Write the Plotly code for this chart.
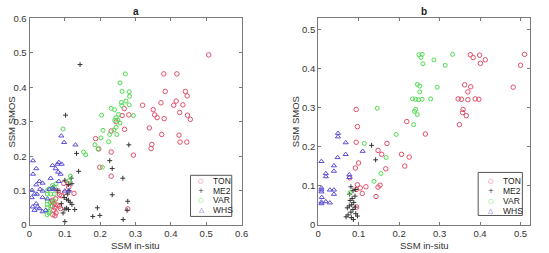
import plotly.graph_objects as go

# ---------------- Panel a data ----------------
a_ton_x = [0.507,0.380,0.417,0.384,0.441,0.446,0.372,0.415,0.408,0.434,0.320,0.350,0.354,0.361,0.381,0.425,0.447,0.455,0.339,0.374,0.423,0.426,0.445,0.346,0.344,0.294,0.268,0.281,0.262,0.269,0.245,0.231,0.187,0.196,0.231,0.199,0.231,0.278,
           0.097,0.109,0.111,0.126,0.081,0.085,0.074,0.065,0.070,0.078,0.065,0.072,0.085,0.069,0.075,0.066,0.072,0.088,0.064,0.090,0.100]
a_ton_y = [0.494,0.439,0.439,0.388,0.388,0.375,0.355,0.360,0.348,0.349,0.348,0.335,0.320,0.312,0.309,0.327,0.319,0.307,0.282,0.263,0.261,0.241,0.241,0.234,0.222,0.203,0.338,0.320,0.318,0.278,0.300,0.273,0.251,0.221,0.212,0.168,0.142,0.047,
           0.121,0.120,0.110,0.092,0.099,0.088,0.076,0.068,0.062,0.058,0.055,0.050,0.055,0.043,0.035,0.030,0.027,0.048,0.072,0.085,0.095]

a_me2_x = [0.143,0.102,0.133,0.139,0.227,0.234,0.281,0.264,0.234,0.278,0.276,0.192,0.179,0.199,0.265,0.118,0.120,0.100,0.110,0.098,0.105,0.110,0.115,0.120,0.100,0.105,0.110,0.128,0.095,0.100,0.090,0.080,0.070,0.108,0.112]
a_me2_y = [0.466,0.319,0.208,0.156,0.187,0.164,0.233,0.136,0.088,0.069,0.043,0.050,0.025,0.028,0.016,0.136,0.120,0.130,0.118,0.080,0.075,0.072,0.066,0.060,0.046,0.049,0.045,0.045,0.035,0.010,0.062,0.100,0.105,0.090,0.100]

a_var_x = [0.271,0.256,0.262,0.282,0.283,0.273,0.282,0.260,0.261,0.231,0.241,0.204,0.294,0.252,0.245,0.241,0.256,0.250,0.245,0.208,0.239,0.247,0.227,0.202,0.224,0.185,0.194,0.153,0.159,0.095,0.206,0.116,0.111,
           0.050,0.055,0.050,0.060,0.050,0.050,0.050,0.055,0.050,0.060,0.070,0.075,0.070,0.065,0.060,0.055,0.070]
a_var_y = [0.439,0.413,0.388,0.387,0.374,0.360,0.349,0.356,0.347,0.339,0.335,0.319,0.318,0.321,0.312,0.304,0.296,0.305,0.284,0.275,0.276,0.263,0.263,0.253,0.242,0.233,0.221,0.212,0.204,0.279,0.168,0.142,0.128,
           0.100,0.105,0.090,0.090,0.070,0.060,0.050,0.040,0.030,0.065,0.090,0.120,0.110,0.115,0.055,0.035,0.070]

a_whs_x = [0.090,0.098,0.130,0.010,0.019,0.010,0.079,0.083,0.091,0.074,0.081,0.088,0.065,0.028,0.037,0.019,0.030,0.060,0.083,0.007,0.014,0.021,0.006,0.019,0.023,0.009,0.028,0.037,0.046,0.014,0.037,0.051,0.056,0.065,0.069,0.037,0.100,0.111]
a_whs_y = [0.259,0.240,0.233,0.187,0.164,0.148,0.177,0.182,0.177,0.164,0.154,0.148,0.173,0.127,0.122,0.117,0.104,0.136,0.127,0.101,0.090,0.090,0.080,0.062,0.053,0.053,0.048,0.039,0.043,0.043,0.080,0.076,0.104,0.108,0.104,0.099,0.099,0.099]

# ---------------- Panel b data ----------------
b_ton_x = [0.376,0.383,0.399,0.401,0.413,0.510,0.500,0.482,0.362,0.377,0.370,0.346,0.354,0.370,0.388,0.397,0.358,0.357,0.366,0.349,0.219,0.265,0.094,0.097,0.094,0.148,0.157,0.170,0.206,0.225,0.214,0.167,0.100,0.092,0.078,0.097,0.104,0.118,0.148,0.153,0.143,0.109,0.095,0.094]
b_ton_y = [0.436,0.429,0.435,0.414,0.423,0.437,0.409,0.353,0.359,0.354,0.341,0.323,0.322,0.321,0.323,0.322,0.296,0.288,0.280,0.257,0.265,0.233,0.296,0.252,0.212,0.191,0.181,0.209,0.181,0.174,0.151,0.144,0.159,0.146,0.121,0.103,0.095,0.098,0.097,0.102,0.073,0.081,0.046,0.091]

b_me2_x = [0.132,0.142,0.093,0.081,0.086,0.078,0.091,0.084,0.079,0.088,0.083,0.077,0.072,0.092,0.086,0.081,0.074,0.082,0.087,0.093,0.097,0.069]
b_me2_y = [0.204,0.167,0.091,0.098,0.088,0.079,0.074,0.068,0.063,0.058,0.052,0.049,0.044,0.046,0.040,0.033,0.026,0.019,0.014,0.029,0.023,0.021]

b_var_x = [0.332,0.249,0.257,0.254,0.259,0.286,0.314,0.245,0.251,0.251,0.294,0.233,0.241,0.248,0.257,0.278,0.241,0.238,0.245,0.236,0.146,0.193,0.114,0.168,0.155,0.138,0.079]
b_var_y = [0.437,0.436,0.437,0.429,0.413,0.423,0.409,0.360,0.356,0.341,0.353,0.323,0.322,0.321,0.322,0.323,0.296,0.291,0.283,0.257,0.299,0.232,0.209,0.173,0.132,0.112,0.083]

b_whs_x = [0.049,0.049,0.068,0.068,0.048,0.110,0.008,0.039,0.039,0.019,0.019,0.077,0.077,0.008,0.008,0.008,0.029,0.039,0.039,0.009,0.008,0.008,0.019,0.029]
b_whs_y = [0.235,0.226,0.211,0.181,0.173,0.189,0.163,0.152,0.138,0.132,0.124,0.129,0.122,0.095,0.090,0.085,0.090,0.090,0.079,0.071,0.059,0.055,0.060,0.057]

series_names = ["TON", "ME2", "VAR", "WHS"]
colors = {"TON": "#e2506a", "ME2": "#333333", "VAR": "#4fdc4f", "WHS": "#5a4fd6"}
symbols = {"TON": "circle-open", "ME2": "cross-thin-open", "VAR": "circle-open", "WHS": "triangle-up-open"}
sizes = {"TON": 4.5, "ME2": 3.5, "VAR": 4, "WHS": 4.5}

panels = [
    ("x", "y", {"TON": (a_ton_x, a_ton_y), "ME2": (a_me2_x, a_me2_y), "VAR": (a_var_x, a_var_y), "WHS": (a_whs_x, a_whs_y)}),
    ("x2", "y2", {"TON": (b_ton_x, b_ton_y), "ME2": (b_me2_x, b_me2_y), "VAR": (b_var_x, b_var_y), "WHS": (b_whs_x, b_whs_y)}),
]

fig = go.Figure()
for xa, ya, data in panels:
    for name in series_names:
        xs, ys = data[name]
        fig.add_trace(go.Scatter(
            x=xs, y=ys, mode="markers", name=name, xaxis=xa, yaxis=ya, showlegend=False,
            marker=dict(symbol=symbols[name], size=sizes[name], color=colors[name],
                        line=dict(width=1, color=colors[name]))))

W, H = 549, 253
FONT = "Liberation Sans, Arial, sans-serif"
axcommon = dict(showline=True, linecolor="#7a7a7a", linewidth=1, mirror="ticks",
                ticks="inside", ticklen=3, tickcolor="#7a7a7a", showgrid=False, zeroline=False,
                tickfont=dict(family=FONT, size=9.5, color="#333333"))

fig.update_layout(
    width=W, height=H, margin=dict(l=0, r=0, t=0, b=0),
    paper_bgcolor="white", plot_bgcolor="white", showlegend=False,
    xaxis=dict(domain=[27/W, 243/W], range=[0, 0.6], dtick=0.1, anchor="y", **axcommon),
    yaxis=dict(domain=[24/H, 240/H], range=[0, 0.6], dtick=0.1, anchor="x", **axcommon),
    xaxis2=dict(domain=[321/W, 537/W], range=[0, 0.524], dtick=0.1, anchor="y2", **axcommon),
    yaxis2=dict(domain=[24/H, 240/H], range=[0, 0.529], dtick=0.1, anchor="x2", **axcommon),
)

anns = []
shapes = []
def px(xp):
    return xp / W
def py(yp):
    return 1 - yp / H

def ann(x, y, text, size, color="#333", family=FONT, xanchor="center", angle=0):
    return dict(x=px(x), y=py(y), xref="paper", yref="paper", text=text, textangle=angle,
                xanchor=xanchor, yanchor="middle", showarrow=False,
                font=dict(family=family, size=size, color=color))

# titles and axis labels
for cx, label in [(135, "a"), (429, "b")]:
    anns.append(ann(cx, 6, "<b>%s</b>" % label, 10, "#222"))
    anns.append(ann(cx, 250, "SSM in-situ", 9.5))
for cx in [9, 298]:
    anns.append(ann(cx, 121, "SSM SMOS", 9.5, angle=-90))

# legends (boxes with symbol keys)
legend_specs = [
    # box x0, x1, y0, y1, symbol x, text x, entry ys
    (191, 233, 177, 220, 202, 212, [183, 193, 203, 213]),
    (484, 529, 174, 219, 497, 507, [183, 193, 204, 214]),
]
key_glyph = {"TON": "○", "ME2": "+", "VAR": "○", "WHS": "△"}
key_size = {"TON": 6.5, "ME2": 7, "VAR": 6.5, "WHS": 6.5}
for x0, x1, y0, y1, sx, tx, ys in legend_specs:
    shapes.append(dict(type="rect", xref="paper", yref="paper", x0=px(x0), x1=px(x1), y0=py(y1), y1=py(y0),
                       line=dict(color="#555", width=1), fillcolor="white"))
    for name, yy in zip(series_names, ys):
        anns.append(ann(sx, yy, key_glyph[name], key_size[name], colors[name], family="DejaVu Sans"))
        anns.append(ann(tx, yy, name, 8.5, "#222", xanchor="left"))

fig.update_layout(annotations=anns, shapes=shapes)
fig.write_html("out.html")
